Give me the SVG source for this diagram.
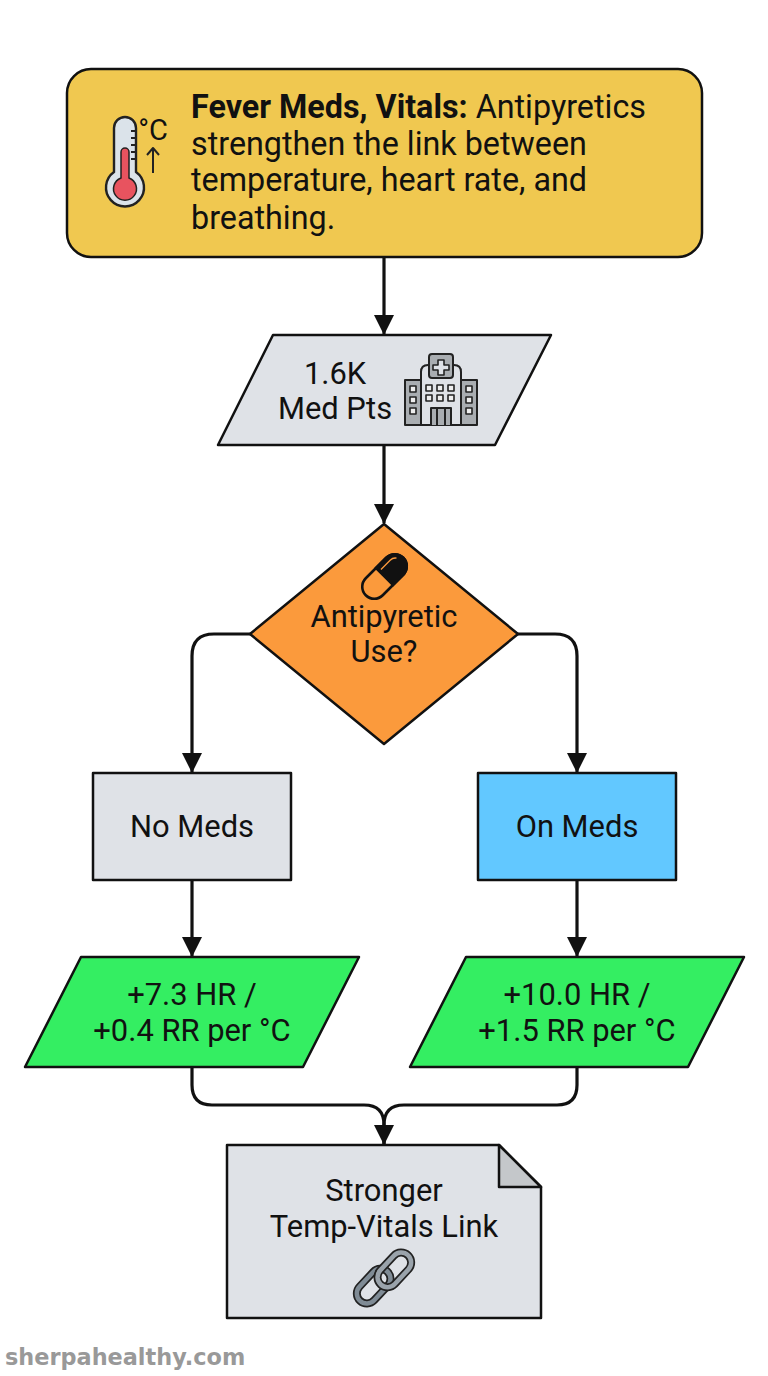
<svg xmlns="http://www.w3.org/2000/svg" width="768" height="1376" viewBox="0 0 768 1376">
<style>
text{font-family:Roboto,"Liberation Sans",sans-serif;font-size:30.900px;fill:#111;text-anchor:middle}
.s{stroke:#111;stroke-width:2.500;stroke-linejoin:round}
.c{fill:none;stroke:#111;stroke-width:3.200}
.ic{stroke:#222;stroke-width:2;fill:none;stroke-linejoin:round}
.l{text-anchor:start;font-size:32.300px}
</style>
<defs><marker id="a" markerUnits="userSpaceOnUse" markerWidth="22" markerHeight="22" refX="19" refY="10" orient="auto"><path d="M0 0L20 10L0 20Z" fill="#111"/></marker></defs>
<rect width="768" height="1376" fill="#fff"/>
<g id="connectors">
<path class="c" marker-end="url(#a)" d="M384 257V334"/>
<path class="c" marker-end="url(#a)" d="M384 445V523"/>
<path class="c" marker-end="url(#a)" d="M251 634H214Q192 634 192 656V772"/>
<path class="c" marker-end="url(#a)" d="M517 634H555Q577 634 577 656V772"/>
<path class="c" marker-end="url(#a)" d="M192 880V956"/>
<path class="c" marker-end="url(#a)" d="M577 880V956"/>
<path class="c" d="M192 1067V1085Q192 1105 212 1105H364Q384 1105 384 1125V1144"/>
<path class="c" marker-end="url(#a)" d="M577 1067V1085Q577 1105 557 1105H404Q384 1105 384 1125V1144"/>
</g>
<g id="title">
<rect class="s" x="67" y="69" width="635" height="188" rx="24" fill="#f0c850"/>
<g id="thermometer">
<path d="M114 172V128a11 11 0 0 1 22 0V172a19 19 0 1 1-22 0Z" fill="#dbe3ea" stroke="#222" stroke-width="2.400"/>
<path d="M121 178V152a4 4 0 0 1 8 0V178a11.500 11.500 0 1 1-8 0Z" fill="#e8535f" stroke="#222" stroke-width="1.500"/>
<path class="ic" d="M136 131h-5M136 138h-5M136 145h-5M136 152h-5M136 159h-5"/>
<path class="ic" d="M153 173V148M147 155l6-7 6 7"/>
</g>
<text x="153" y="140" style="font-size:29px">°C</text>
<text class="l" x="191" y="118"><tspan font-weight="700">Fever Meds, Vitals:</tspan> Antipyretics</text>
<text class="l" x="191" y="155">strengthen the link between</text>
<text class="l" x="191" y="191">temperature, heart rate, and</text>
<text class="l" x="191" y="229">breathing.</text>
</g>
<g id="patients">
<path class="s" d="M273 335H551L495 445H218Z" fill="#dfe2e7"/>
<text x="335" y="384">1.6K</text>
<text x="335" y="419">Med Pts</text>
<g id="hospital" class="ic">
<path d="M405 380H421V425H405ZM461 380H477V425H461Z" fill="#a9adb1"/>
<path d="M421 425V372Q421 365 428 365H454Q461 365 461 372V425Z" fill="#dfe2e7"/>
<rect x="429" y="354" width="24" height="24" rx="3" fill="#a9adb1"/>
<path d="M438 360h6v5h5v5h-5v5h-6v-5h-5v-5h5Z" fill="#dfe2e7" stroke-width="1.600"/>
<path d="M431 425V408H451V425M437 408V425M445 408V425" fill="#a9adb1"/>
<path d="M426 385h6v6h-6zM437 385h6v6h-6zM448 385h6v6h-6zM426 395h6v6h-6zM437 395h6v6h-6zM448 395h6v6h-6zM410 386h6v6h-6zM410 397h6v6h-6zM410 408h6v6h-6zM466 386h6v6h-6zM466 397h6v6h-6zM466 408h6v6h-6z" fill="#eee" stroke-width="1.600"/>
</g>
</g>
<g id="decision">
<path class="s" d="M384 524L518 634L384 744L250 634Z" fill="#fb9a3c"/>
<g id="pill" transform="rotate(-45 384.500 576.500)">
<rect x="358" y="564.500" width="53" height="24" rx="12" fill="#fb9a3c" stroke="#111" stroke-width="2.600"/>
<path d="M384.500 564.500H399a12 12 0 0 1 0 24H384.500Z" fill="#111" stroke="#111" stroke-width="2.600"/>
<path d="M387 569H400Q404 569 406 572" fill="none" stroke="#fb9a3c" stroke-width="1.300"/>
</g>
<text x="384" y="627">Antipyretic</text>
<text x="384" y="662">Use?</text>
</g>
<g id="no-meds">
<rect class="s" x="93" y="773" width="198" height="107" fill="#dfe2e7"/>
<text x="192" y="837">No Meds</text>
</g>
<g id="on-meds">
<rect class="s" x="478" y="773" width="198" height="107" fill="#62c8ff"/>
<text x="577" y="837">On Meds</text>
</g>
<g id="no-result">
<path class="s" d="M81 957H359L303 1067H25Z" fill="#34ee62"/>
<text x="192" y="1005">+7.3 HR /</text>
<text x="192" y="1041">+0.4 RR per °C</text>
</g>
<g id="on-result">
<path class="s" d="M466 957H744L688 1067H410Z" fill="#34ee62"/>
<text x="577" y="1005">+10.0 HR /</text>
<text x="577" y="1041">+1.5 RR per °C</text>
</g>
<g id="outcome">
<path class="s" d="M227 1145H499L541 1187V1318H227Z" fill="#dfe2e7"/>
<path class="s" d="M499 1145L541 1187H499Z" fill="#c4c7ca"/>
<text x="384" y="1201">Stronger</text>
<text x="384" y="1237">Temp-Vitals Link</text>
<g id="link" transform="rotate(-47 384 1278)">
<rect x="351" y="1266" width="40" height="20" rx="10" fill="none" stroke="#222" stroke-width="8"/>
<rect x="351" y="1266" width="40" height="20" rx="10" fill="none" stroke="#7f8b95" stroke-width="4.500"/>
<rect x="377" y="1270" width="40" height="20" rx="10" fill="none" stroke="#222" stroke-width="8"/>
<rect x="377" y="1270" width="40" height="20" rx="10" fill="none" stroke="#9aa3ab" stroke-width="4.500"/>
</g>
</g>
<text x="5" y="1365" style="font-family:'DejaVu Sans',sans-serif;font-size:22.400px;font-weight:700;fill:#999;text-anchor:start">sherpahealthy.com</text>
</svg>
